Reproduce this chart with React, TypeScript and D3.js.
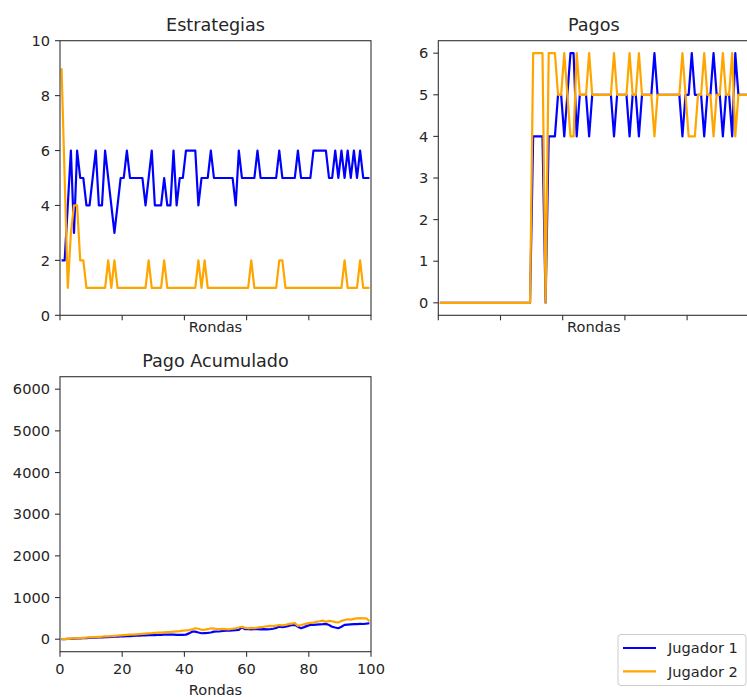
import React from "react";
import * as d3 from "d3";

// ---------- DATA ----------
const stratJ1 = [
  2, 2, 4, 6, 3, 6, 5, 5, 4, 4,
  5, 6, 4, 4, 6, 5, 4, 3, 4, 5,
  5, 6, 5, 5, 5, 5, 5, 4, 5, 6,
  4, 4, 4, 5, 4, 4, 6, 4, 5, 5,
  6, 6, 6, 6, 4, 5, 5, 5, 6, 5,
  5, 5, 5, 5, 5, 5, 4, 6, 5, 5,
  5, 5, 5, 6, 5, 5, 5, 5, 5, 5,
  6, 5, 5, 5, 5, 5, 6, 5, 5, 5,
  5, 6, 6, 6, 6, 6, 5, 5, 6, 5,
  6, 5, 6, 5, 6, 5, 6, 5, 5, 5,
];
const stratJ2 = [
  9, 5, 1, 3, 4, 4, 2, 2, 1, 1,
  1, 1, 1, 1, 1, 2, 1, 2, 1, 1,
  1, 1, 1, 1, 1, 1, 1, 1, 2, 1,
  1, 1, 1, 2, 1, 1, 1, 1, 1, 1,
  1, 1, 1, 1, 2, 1, 2, 1, 1, 1,
  1, 1, 1, 1, 1, 1, 1, 1, 1, 1,
  1, 2, 1, 1, 1, 1, 1, 1, 1, 1,
  2, 2, 1, 1, 1, 1, 1, 1, 1, 1,
  1, 1, 1, 1, 1, 1, 1, 1, 1, 1,
  1, 2, 1, 1, 1, 1, 2, 1, 1, 1,
];
const payJ1 = [
  0, 0, 0, 0, 0, 0, 0, 0, 0, 0,
  0, 0, 0, 0, 0, 0, 0, 0, 0, 0,
  0, 0, 0, 0, 0, 0, 0, 0, 0, 0,
  4, 4, 4, 4, 0, 4, 4, 4, 5, 5,
  4, 5, 6, 6, 4, 5, 5, 5, 4, 5,
  5, 5, 5, 5, 5, 5, 4, 5, 5, 5,
  5, 4, 5, 5, 4, 5, 5, 5, 5, 6,
  5, 5, 5, 5, 5, 5, 5, 5, 4, 5,
  5, 6, 5, 5, 5, 4, 5, 5, 6, 5,
  5, 4, 5, 5, 4, 6, 5, 5, 5, 5,
];
const payJ2 = [
  0, 0, 0, 0, 0, 0, 0, 0, 0, 0,
  0, 0, 0, 0, 0, 0, 0, 0, 0, 0,
  0, 0, 0, 0, 0, 0, 0, 0, 0, 0,
  6, 6, 6, 6, 0, 6, 6, 6, 5, 5,
  6, 5, 4, 4, 6, 5, 5, 5, 6, 5,
  5, 5, 5, 5, 5, 5, 6, 5, 5, 5,
  5, 6, 5, 5, 6, 5, 5, 5, 5, 4,
  5, 5, 5, 5, 5, 5, 5, 5, 6, 5,
  4, 4, 4, 5, 5, 6, 5, 5, 4, 5,
  5, 6, 5, 5, 6, 4, 5, 5, 5, 5,
];
const cumJ1 = [
  0, 3, 6, 10, 14, 17, 20, 24, 28, 31,
  35, 38, 42, 45, 49, 52, 56, 60, 63, 67,
  70, 74, 76, 80, 84, 86, 90, 94, 96, 98,
  100, 102, 106, 108, 110, 112, 108, 104, 106, 104,
  110, 140, 180, 183, 160, 143, 146, 150, 160, 183,
  185, 190, 200, 205, 207, 210, 215, 225, 287, 240,
  239, 236, 240, 242, 238, 240, 236, 239, 250, 270,
  303, 290, 300, 320, 340, 343, 300, 263, 290, 320,
  343, 343, 350, 355, 360, 367, 340, 300, 280, 263,
  300, 343, 350, 355, 360, 362, 367, 365, 372, 383,
];
const cumJ2 = [
  0, 5, 9, 14, 20, 24, 28, 33, 38, 42,
  47, 52, 56, 60, 66, 70, 75, 80, 86, 92,
  98, 104, 108, 112, 118, 124, 130, 136, 140, 144,
  150, 156, 160, 166, 172, 176, 182, 190, 196, 204,
  210, 218, 240, 262, 250, 226, 232, 240, 262, 256,
  244, 240, 246, 240, 238, 250, 262, 280, 300, 272,
  262, 270, 268, 276, 290, 298, 310, 318, 312, 326,
  340, 332, 344, 360, 372, 384, 322, 340, 360, 380,
  392, 400, 420, 430, 446, 420, 440, 430, 410, 400,
  440, 460, 478, 470, 488, 500, 505, 498, 502, 430,
];

const xTicks = [0, 20, 40, 60, 80, 100];
const stratTicks = [0, 2, 4, 6, 8, 10];
const payTicks = [0, 1, 2, 3, 4, 5, 6];
const cumTicks = [0, 1000, 2000, 3000, 4000, 5000, 6000];
const seriesNames = ["Jugador 1", "Jugador 2"];
const seriesColors = ["#0000ff", "#ffa500"];

// ---------- STYLE ----------
const FONT = "'DejaVu Sans', sans-serif";
const TICK_FS = 14.6;
const TITLE_FS = 17.6;
const TEXT = "#262626";
const SPINE = "#333333";
const LW = 2.2;

type PanelProps = {
  x0: number; x1: number; y0: number; y1: number;
  title: string;
  yDomain: [number, number];
  yTicks: number[];
  showXLabels: boolean;
  series: number[][];
};

function Panel({ x0, x1, y0, y1, title, yDomain, yTicks, showXLabels, series }: PanelProps) {
  const x = d3.scaleLinear().domain([0, 100]).range([x0, x1]);
  const y = d3.scaleLinear().domain(yDomain).range([y1, y0]);
  const line = d3
    .line<number>()
    .x((_, i) => x(i + 0.5))
    .y((d) => y(d));
  const clipId = "clip-" + title.replace(/\s/g, "");
  return (
    <g>
      <defs>
        <clipPath id={clipId}>
          <rect x={x0} y={y0} width={x1 - x0} height={y1 - y0} />
        </clipPath>
      </defs>
      <g clipPath={`url(#${clipId})`}>
        {series.map((s, k) => (
          <path
            key={k}
            d={line(s) || ""}
            fill="none"
            stroke={seriesColors[k]}
            strokeWidth={LW}
            strokeLinejoin="round"
            strokeLinecap="butt"
          />
        ))}
      </g>
      <rect x={x0} y={y0} width={x1 - x0} height={y1 - y0} fill="none" stroke={SPINE} strokeWidth={1.1} />
      {yTicks.map((t) => (
        <g key={"y" + t}>
          <line x1={x0 - 5} x2={x0} y1={y(t)} y2={y(t)} stroke={SPINE} strokeWidth={1.1} />
          <text x={x0 - 10} y={y(t)} dy="0.36em" textAnchor="end" fontSize={TICK_FS} fill={TEXT} fontFamily={FONT}>
            {t}
          </text>
        </g>
      ))}
      {xTicks.map((t) => (
        <g key={"x" + t}>
          <line x1={x(t)} x2={x(t)} y1={y1} y2={y1 + 5} stroke={SPINE} strokeWidth={1.1} />
          {showXLabels && (
            <text x={x(t)} y={y1 + 22.5} textAnchor="middle" fontSize={TICK_FS} fill={TEXT} fontFamily={FONT}>
              {t}
            </text>
          )}
        </g>
      ))}
      <text
        x={(x0 + x1) / 2}
        y={showXLabels ? y1 + 43.5 : y1 + 17}
        textAnchor="middle"
        fontSize={TICK_FS}
        fill={TEXT}
        fontFamily={FONT}
      >
        Rondas
      </text>
      <text x={(x0 + x1) / 2} y={y0 - 9.5} textAnchor="middle" fontSize={TITLE_FS} fill={TEXT} fontFamily={FONT}>
        {title}
      </text>
    </g>
  );
}

export default function App() {
  return (
    <svg
      width={747}
      height={697}
      style={{ position: "absolute", left: 0, top: 0, background: "#fff" }}
    >
      <rect width={747} height={697} fill="#fff" />
      <Panel
        x0={60} x1={371} y0={40.7} y1={315.3}
        title="Estrategias" yDomain={[0, 10]} yTicks={stratTicks}
        showXLabels={false} series={[stratJ1, stratJ2]}
      />
      <Panel
        x0={438.3} x1={749.3} y0={40.7} y1={315.3}
        title="Pagos" yDomain={[-0.3, 6.3]} yTicks={payTicks}
        showXLabels={false} series={[payJ1, payJ2]}
      />
      <Panel
        x0={60} x1={371} y0={376.7} y1={651.7}
        title="Pago Acumulado" yDomain={[-300, 6300]} yTicks={cumTicks}
        showXLabels={true} series={[cumJ1, cumJ2]}
      />
      <g>
        <rect x={618} y={634.5} width={128} height={51} rx={3} ry={3} fill="#fff" fillOpacity={0.8} stroke="#cccccc" strokeWidth={1} />
        {seriesNames.map((n, k) => (
          <g key={n}>
            <line x1={623} x2={656} y1={648 + k * 23.3} y2={648 + k * 23.3} stroke={seriesColors[k]} strokeWidth={LW} />
            <text x={668} y={648 + k * 23.3} dy="0.36em" fontSize={TICK_FS} fill={TEXT} fontFamily={FONT}>
              {n}
            </text>
          </g>
        ))}
      </g>
    </svg>
  );
}
